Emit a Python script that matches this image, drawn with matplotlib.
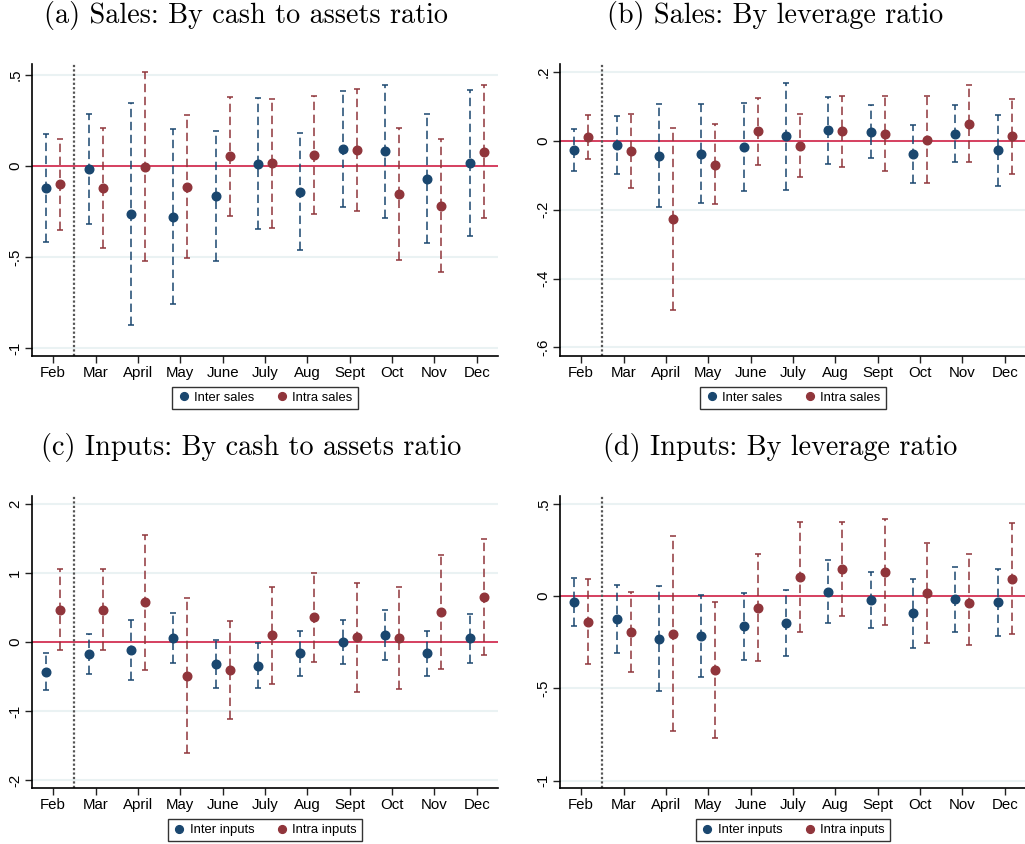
import numpy as np
import matplotlib
matplotlib.use("Agg")
import matplotlib.pyplot as plt
from matplotlib.lines import Line2D

plt.rcParams['font.family'] = ['Liberation Sans', 'DejaVu Sans']

months = ["Feb", "Mar", "April", "May", "June", "July", "Aug", "Sept", "Oct", "Nov", "Dec"]

# (a) sales, split by cash to assets ratio
a_inter = [-0.123, -0.018, -0.264, -0.280, -0.167, 0.011, -0.143, 0.092, 0.079, -0.070, 0.016]
a_inter_lo = [-0.419, -0.322, -0.874, -0.758, -0.520, -0.348, -0.463, -0.225, -0.284, -0.423, -0.385]
a_inter_hi = [0.172, 0.284, 0.346, 0.200, 0.189, 0.370, 0.179, 0.412, 0.443, 0.284, 0.418]
a_intra = [-0.101, -0.123, -0.005, -0.115, 0.053, 0.013, 0.059, 0.086, -0.156, -0.218, 0.075]
a_intra_lo = [-0.353, -0.452, -0.524, -0.507, -0.273, -0.342, -0.262, -0.249, -0.516, -0.584, -0.288]
a_intra_hi = [0.150, 0.205, 0.515, 0.278, 0.377, 0.366, 0.385, 0.423, 0.207, 0.150, 0.441]

# (b) sales, split by leverage ratio
b_inter = [-0.027, -0.012, -0.044, -0.039, -0.017, 0.013, 0.030, 0.026, -0.039, 0.021, -0.027]
b_inter_lo = [-0.089, -0.095, -0.193, -0.182, -0.145, -0.144, -0.068, -0.049, -0.123, -0.062, -0.132]
b_inter_hi = [0.034, 0.072, 0.107, 0.107, 0.110, 0.169, 0.127, 0.103, 0.047, 0.104, 0.076]
b_intra = [0.012, -0.029, -0.228, -0.069, 0.027, -0.014, 0.028, 0.019, 0.003, 0.048, 0.013]
b_intra_lo = [-0.052, -0.138, -0.492, -0.185, -0.070, -0.104, -0.075, -0.089, -0.123, -0.062, -0.097]
b_intra_hi = [0.076, 0.078, 0.037, 0.048, 0.123, 0.079, 0.130, 0.129, 0.129, 0.161, 0.122]

# (c) inputs, split by cash to assets ratio
c_inter = [-0.430, -0.179, -0.126, 0.058, -0.319, -0.348, -0.169, -0.005, 0.101, -0.169, 0.048]
c_inter_lo = [-0.700, -0.469, -0.560, -0.309, -0.671, -0.671, -0.493, -0.319, -0.266, -0.493, -0.300]
c_inter_hi = [-0.159, 0.106, 0.309, 0.420, 0.029, -0.024, 0.155, 0.309, 0.464, 0.159, 0.401]
c_intra = [0.459, 0.464, 0.570, -0.488, -0.411, 0.092, 0.353, 0.063, 0.058, 0.425, 0.652]
c_intra_lo = [-0.121, -0.121, -0.411, -1.614, -1.116, -0.614, -0.295, -0.725, -0.676, -0.396, -0.184]
c_intra_hi = [1.048, 1.048, 1.546, 0.638, 0.295, 0.797, 0.995, 0.855, 0.792, 1.251, 1.493]

# (d) inputs, split by leverage ratio
d_inter = [-0.033, -0.127, -0.231, -0.215, -0.165, -0.148, 0.022, -0.024, -0.094, -0.018, -0.034]
d_inter_lo = [-0.161, -0.311, -0.515, -0.436, -0.345, -0.327, -0.146, -0.174, -0.280, -0.193, -0.215]
d_inter_hi = [0.099, 0.060, 0.056, 0.007, 0.014, 0.031, 0.193, 0.130, 0.094, 0.159, 0.148]
d_intra = [-0.139, -0.195, -0.203, -0.403, -0.063, 0.103, 0.146, 0.128, 0.014, -0.038, 0.094]
d_intra_lo = [-0.367, -0.414, -0.731, -0.769, -0.354, -0.195, -0.108, -0.157, -0.257, -0.266, -0.206]
d_intra_hi = [0.092, 0.024, 0.327, -0.034, 0.226, 0.403, 0.403, 0.420, 0.288, 0.230, 0.398]

panels = [
    ("(a) Sales: By cash to assets ratio", "sales",
     a_inter, a_inter_lo, a_inter_hi, a_intra, a_intra_lo, a_intra_hi,
     (-1.044, 0.559), [-1, -0.5, 0, 0.5], ["-1", "-.5", "0", ".5"]),
    ("(b) Sales: By leverage ratio", "sales",
     b_inter, b_inter_lo, b_inter_hi, b_intra, b_intra_lo, b_intra_hi,
     (-0.625, 0.223), [-0.6, -0.4, -0.2, 0, 0.2], ["-.6", "-.4", "-.2", "0", ".2"]),
    ("(c) Inputs: By cash to assets ratio", "inputs",
     c_inter, c_inter_lo, c_inter_hi, c_intra, c_intra_lo, c_intra_hi,
     (-2.116, 2.11), [-2, -1, 0, 1, 2], ["-2", "-1", "0", "1", "2"]),
    ("(d) Inputs: By leverage ratio", "inputs",
     d_inter, d_inter_lo, d_inter_hi, d_intra, d_intra_lo, d_intra_hi,
     (-1.040, 0.542), [-1, -0.5, 0, 0.5], ["-1", "-.5", "0", ".5"]),
]

W, H = 1025, 844
navy = "#1a476f"
maroon = "#90353b"
zero_col = "#d6405f"
grid_col = "#eaf2f3"

fig = plt.figure(figsize=(W / 100, H / 100), dpi=100)

# pixel boxes: left, top (all axes 466 x 292 px)
boxes = [(32, 64), (560, 64), (32, 496), (560, 496)]
title_pos = [(246, 16), (775, 16), (251, 447), (780, 447)]

x = np.arange(1, len(months) + 1)
off = 0.165

for (title, kind, inter, ilo, ihi, intra, rlo, rhi, ylim, yt, ytl), (l, t), (tx, ty) in zip(panels, boxes, title_pos):
    ax = fig.add_axes([l / W, 1 - (t + 292) / H, 466 / W, 292 / H])
    for yv in yt:
        ax.axhline(yv, color=grid_col, lw=1.5, zorder=0)
    ax.axhline(0, color=zero_col, lw=1.4, zorder=1)
    ax.axvline(1.5, color="#555555", lw=1.6, ls=(0, (1.0, 1.0)), zorder=1)

    handles = []
    for vals, lo, hi, dx, col, lab in [(inter, ilo, ihi, -off, navy, "Inter " + kind),
                                      (intra, rlo, rhi, off, maroon, "Intra " + kind)]:
        vals = np.array(vals)
        err = [vals - np.array(lo), np.array(hi) - vals]
        ln, caps, bars = ax.errorbar(x + dx, vals, yerr=err, fmt="o", color=col, ms=6.2,
                                     elinewidth=1.1, capsize=2.2, capthick=1.1, zorder=3)
        bars[0].set_linestyle((0, (5.5, 3)))
        handles.append(Line2D([], [], ls="none", marker="o", color=col, ms=5.6, label=lab))

    ax.set_xlim(0.5, 11.5)
    ax.set_ylim(*ylim)
    ax.set_xticks(x)
    ax.set_xticklabels(months, fontsize=10.8)
    ax.set_yticks(yt)
    ax.set_yticklabels(ytl, fontsize=10.8, rotation=90, va="center")
    ax.tick_params(direction="out", length=5, width=1, color="#222222", pad=2)
    for s in ["top", "right"]:
        ax.spines[s].set_visible(False)
    for s in ["left", "bottom"]:
        ax.spines[s].set_linewidth(1.2)

    leg = ax.legend(handles=handles, loc="center", bbox_to_anchor=((l + 233) / W, 1 - (t + 334) / H),
                    bbox_transform=fig.transFigure, ncol=2, fontsize=9.4, frameon=True,
                    fancybox=False, edgecolor="black", handletextpad=0.3, columnspacing=1.6,
                    handlelength=1.0, borderpad=0.4)
    leg.get_frame().set_linewidth(1.0)

    fig.text(tx / W, 1 - ty / H, title, family="cmr10", fontsize=20.3, ha="center", va="center")

fig.savefig("out.png", dpi=100)
